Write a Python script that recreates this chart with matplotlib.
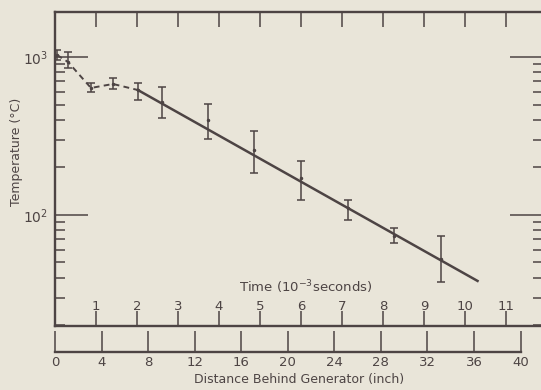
import matplotlib.pyplot as plt
from matplotlib.ticker import LogLocator, NullFormatter, FixedLocator

# measured points (distance in inch, temperature in deg C)
distance = [0.17, 1.12, 3.09, 4.98, 7.12, 9.18, 13.13, 17.08, 21.12, 25.15, 29.1, 33.13]
temp = [1030, 930, 637, 675, 618, 519, 399, 258, 171, 111, 73.6, 52.7]
temp_lo = [957, 852, 600, 627, 535, 411, 303, 185, 124, 93, 66.5, 37.7]
temp_hi = [1107, 1075, 684, 736, 684, 646, 504, 340, 220, 124, 82.8, 73.6]

# fitted straight line
fit_dist = [7.12, 36.3]
fit_temp = [618, 38.2]

time_ticks = [1, 2, 3, 4, 5, 6, 7, 8, 9, 10, 11]
dist_ticks = [0, 4, 8, 12, 16, 20, 24, 28, 32, 36, 40]
inch_per_ms = 3.522

bg = '#e9e5d9'
ink = '#4d4444'

plt.rcParams['font.family'] = 'DejaVu Sans'
plt.rcParams['mathtext.default'] = 'regular'

fig = plt.figure(figsize=(5.41, 3.90), dpi=100)
fig.patch.set_facecolor(bg)

W, H = 541.0, 390.0
x0, x1 = 55, 543
ytop, ybot = 12, 326
ax = fig.add_axes([x0 / W, (H - ybot) / H, (x1 - x0) / W, (ybot - ytop) / H])
ax.set_facecolor(bg)
px_per_in = 11.64
ax.set_xlim(0, (x1 - x0) / px_per_in)
ax.set_yscale('log')
ax.set_ylim(19.8, 1928)

# data
n_dash = 5
ax.plot(distance[:n_dash], temp[:n_dash], color=ink, lw=1.4, ls=(0, (3, 2.2)))
ax.plot(fit_dist, fit_temp, color=ink, lw=1.8)
yerr = [[t - lo for t, lo in zip(temp, temp_lo)], [hi - t for t, hi in zip(temp, temp_hi)]]
ax.errorbar(distance, temp, yerr=yerr, fmt='.', ms=3, color=ink, ecolor=ink,
            elinewidth=1.1, capsize=2.6, capthick=1.1)

for s in ax.spines.values():
    s.set_color(ink)
    s.set_linewidth(1.7)

# time ticks (bottom labels inside, top ticks only)
ax.xaxis.set_major_locator(FixedLocator([t * inch_per_ms for t in time_ticks]))
ax.set_xticklabels([str(t) for t in time_ticks])
ax.tick_params(axis='x', which='both', direction='in', length=11, width=1.1, color=ink,
               top=True, bottom=True, labelbottom=True, pad=-19, labelsize=9.5, labelcolor=ink)
ax.text(0.514, 0.122, 'Time (10$^{-3}$seconds)', transform=ax.transAxes, ha='center',
        va='center', fontsize=9.5, color=ink)

# temperature axis
ax.yaxis.set_major_locator(LogLocator(base=10))
ax.yaxis.set_minor_locator(LogLocator(base=10, subs=range(2, 10)))
ax.yaxis.set_minor_formatter(NullFormatter())
ax.set_yticks([100, 1000])
ax.set_yticklabels(['$10^2$', '$10^3$'])
ax.tick_params(axis='y', which='major', direction='in', length=24, width=1.1, color=ink,
               left=True, right=True, labelsize=10, labelcolor=ink, pad=5)
ax.tick_params(axis='y', which='minor', direction='in', length=7, width=1.1, color=ink,
               left=True, right=True)
ax.set_ylabel('Temperature (°C)', fontsize=9, color=ink)
ax.yaxis.set_label_coords((23 - x0) / (x1 - x0), (ybot - 152) / (ybot - ytop))

# distance axis below
yd = 352
axd = fig.add_axes([x0 / W, (H - yd) / H, (x1 - x0) / W, 0.0001])
axd.set_facecolor('none')
axd.set_xlim(ax.get_xlim())
for k in ['top', 'left', 'right']:
    axd.spines[k].set_visible(False)
axd.spines['bottom'].set_color(ink)
axd.spines['bottom'].set_linewidth(1.7)
axd.spines['bottom'].set_bounds(0, 40)
axd.set_yticks([])
axd.set_xticks(dist_ticks)
axd.set_xticklabels([str(d) for d in dist_ticks])
axd.tick_params(axis='x', direction='in', length=15, width=1.1, color=ink,
                labelsize=9.5, labelcolor=ink, pad=3)
axd.set_xlabel('Distance Behind Generator (inch)', fontsize=9, color=ink, labelpad=3)

fig.savefig('out.png', dpi=100, facecolor=bg)
